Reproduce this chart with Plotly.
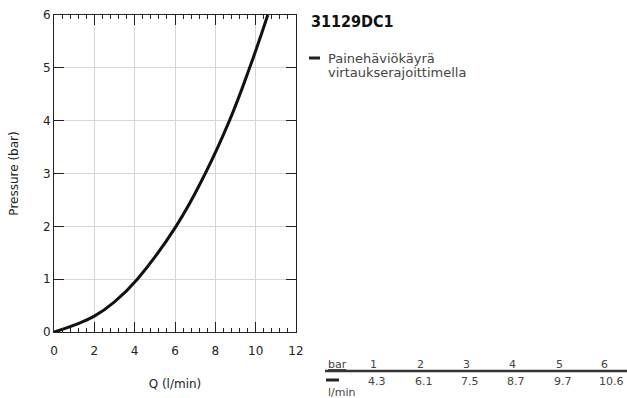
import plotly.graph_objects as go

# Data
product = "31129DC1"
series_name = ["Painehäviökäyrä", "virtaukserajoittimella"]
table_bar = [1, 2, 3, 4, 5, 6]
table_flow = [4.3, 6.1, 7.5, 8.7, 9.7, 10.6]
curve_q = [0, 1, 2, 3, 4.13, 6.05, 7.5, 8.7, 9.7, 10.6]
curve_p = [0, 0.13, 0.3, 0.57, 1, 2, 3, 4, 5, 6]

W, H = 627, 398
L, R, T, B = 54, 296, 15, 332

def px(x):
    return (x - L) / (R - L)

def py(y):
    return (B - y) / (B - T)

fig = go.Figure()
fig.add_trace(go.Scatter(
    x=curve_q, y=curve_p, mode="lines",
    line=dict(color="#111111", width=3, shape="spline", smoothing=1.3),
    showlegend=False, hoverinfo="skip"))

lab_font = dict(family="DejaVu Sans", size=12, color="#222222")
axis_common = dict(
    showline=True, linecolor="#222222", linewidth=1, mirror="ticks",
    ticks="inside", tickcolor="#222222", ticklen=10, tickwidth=1,
    showgrid=True, gridcolor="#d3d6de", gridwidth=1, zeroline=False,
    tickfont=lab_font,
)

fig.update_layout(
    xaxis=dict(range=[0, 12], dtick=2, tick0=0, ticklabelstandoff=8,
               title=dict(text="Q (l/min)", font=lab_font, standoff=22),
               **axis_common),
    yaxis=dict(range=[0, 6], dtick=1, tick0=0,
               title=dict(text="Pressure (bar)", font=lab_font, standoff=21),
               **axis_common),
    # minor tick overlay axis
    xaxis2=dict(range=[0, 12], dtick=0.4, tick0=0, overlaying="x", side="bottom",
                ticks="inside", ticklen=4, tickcolor="#222222", tickwidth=1,
                mirror="ticks", showline=False, showgrid=False, zeroline=False,
                showticklabels=False, anchor="y"),
)
fig.add_trace(go.Scatter(x=[None], y=[None], xaxis="x2", yaxis="y", showlegend=False, hoverinfo="skip"))

ann = []
shapes = []
# Title
ann.append(dict(x=px(309), y=py(21), xref="paper", yref="paper", xanchor="left", yanchor="middle",
                text="<b>" + product + "</b>", showarrow=False,
                font=dict(family="DejaVu Sans Condensed, DejaVu Sans", size=16, color="#111111")))
# Legend
shapes.append(dict(type="line", xref="paper", yref="paper", x0=px(309), x1=px(320), y0=py(58), y1=py(58),
                   line=dict(color="#222222", width=3)))
ann.append(dict(x=px(326), y=py(58), xref="paper", yref="paper", xanchor="left", yanchor="middle",
                text=series_name[0], showarrow=False,
                font=dict(family="DejaVu Sans", size=13, color="#444444")))
ann.append(dict(x=px(326), y=py(72), xref="paper", yref="paper", xanchor="left", yanchor="middle",
                text=series_name[1], showarrow=False,
                font=dict(family="DejaVu Sans", size=13, color="#444444")))

# Table
tfont = dict(family="DejaVu Sans", size=11, color="#444444")
ann.append(dict(x=px(326), y=py(364), xref="paper", yref="paper", xanchor="left", yanchor="middle",
                text="<u>bar</u>", showarrow=False, font=tfont))
cols = [366, 413, 459, 505, 552, 597]
for i, (b, f) in enumerate(zip(table_bar, table_flow)):
    ann.append(dict(x=px(cols[i] + 2), y=py(364), xref="paper", yref="paper", xanchor="left", yanchor="middle",
                    text=str(b), showarrow=False, font=tfont))
    ann.append(dict(x=px(cols[i]), y=py(381), xref="paper", yref="paper", xanchor="left", yanchor="middle",
                    text=f"{f:.1f}", showarrow=False, font=tfont))
shapes.append(dict(type="line", xref="paper", yref="paper", x0=px(325), x1=px(627), y0=py(371), y1=py(371),
                   line=dict(color="#333333", width=2.5)))
shapes.append(dict(type="line", xref="paper", yref="paper", x0=px(326), x1=px(339), y0=py(380), y1=py(380),
                   line=dict(color="#222222", width=3)))
ann.append(dict(x=px(326), y=py(392), xref="paper", yref="paper", xanchor="left", yanchor="middle",
                text="l/min", showarrow=False, font=tfont))

fig.update_layout(
    width=W, height=H,
    margin=dict(l=L, r=W - R, t=T, b=H - B, autoexpand=False),
    paper_bgcolor="white", plot_bgcolor="white",
    annotations=ann, shapes=shapes, showlegend=False,
)

fig.write_html("out.html", config={"displayModeBar": False},
               post_script="document.body.style.margin='0';document.body.style.overflow='hidden';")
